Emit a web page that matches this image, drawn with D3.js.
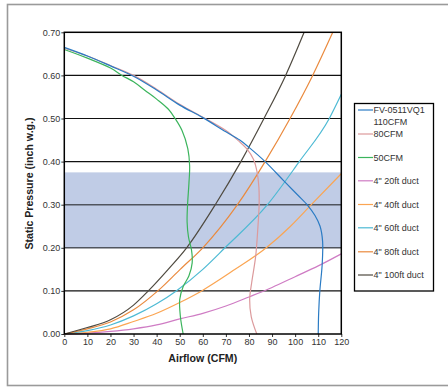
<!DOCTYPE html>
<html><head><meta charset="utf-8">
<script src="https://cdn.jsdelivr.net/npm/d3@7"></script>
<style>body{margin:0;background:#fff}svg{display:block}</style>
</head><body>
<svg id="c" width="448" height="387"></svg>
<script>
// ---- data ----
const xTicks = [0,10,20,30,40,50,60,70,80,90,100,110,120];
const yTicks = [0,0.1,0.2,0.3,0.4,0.5,0.6,0.7];
const bandRange = [0.2, 0.375];
const seriesNames = ["FV-0511VQ1\n110CFM","80CFM","50CFM","4\" 20ft duct","4\" 40ft duct","4\" 60ft duct","4\" 80ft duct","4\" 100ft duct"];
const fan110 = [[0,0.665],[10,0.645],[20,0.622],[30,0.598],[40,0.566],[50,0.531],[60,0.502],[70,0.469],[76,0.45],[80,0.433],[87,0.40],[95,0.356],[101,0.323],[105.5,0.298],[108.6,0.275],[110.8,0.25],[111.9,0.215],[111.7,0.16],[110.7,0.10],[110.2,0.05],[110,0]];
const fan80 = [[0,0.663],[10,0.645],[20,0.623],[30,0.600],[40,0.568],[50,0.533],[60,0.503],[70,0.472],[75.5,0.448],[79,0.43],[82,0.405],[83.5,0.376],[84.3,0.34],[84.4,0.30],[83.9,0.25],[82.9,0.18],[81.2,0.12],[80.3,0.08],[81,0.04],[83.4,0]];
const fan50 = [[0,0.66],[10,0.64],[20,0.617],[25,0.60],[30,0.585],[35,0.565],[40,0.545],[45,0.522],[48,0.50],[51,0.472],[53.5,0.43],[54.3,0.39],[54,0.35],[53.4,0.30],[53.2,0.26],[53.8,0.225],[55.1,0.195],[55.4,0.165],[54,0.135],[51.5,0.11],[50,0.08],[50.3,0.04],[51.5,0]];
const duct20 = [[0,0],[10,0.002],[20,0.006],[30,0.012],[40,0.021],[50,0.035],[60,0.048],[70,0.065],[80,0.086],[90,0.108],[100,0.133],[110,0.158],[120,0.186]];
const duct40 = [[0,0],[10,0.004],[20,0.012],[30,0.029],[40,0.048],[50,0.073],[59.5,0.10],[74,0.15],[87.5,0.20],[98,0.25],[107,0.30],[120,0.372]];
const duct60 = [[0,0],[10,0.008],[20,0.021],[30,0.042],[40,0.07],[48.5,0.10],[60,0.15],[69.6,0.20],[88,0.30],[101.8,0.40],[114.8,0.50],[120,0.556]];
const duct80 = [[0,0],[10,0.012],[20,0.028],[30,0.056],[40.5,0.10],[50.2,0.15],[60,0.20],[75,0.30],[87,0.40],[97.8,0.50],[107.6,0.60],[116.3,0.70]];
const duct100 = [[0,0],[10,0.015],[20,0.033],[30,0.067],[36.4,0.10],[45,0.15],[53,0.20],[65.4,0.30],[76.5,0.40],[86.5,0.50],[95.9,0.60],[103.9,0.70]];
const colors = ["#2a7bc4","#dc9a9c","#3bb45c","#cf7cc4","#fba552","#4dbad4","#ea8a3e","#4f4a40"];

// ---- chart ----
const svg = d3.select("#c");
const font = "'Liberation Sans', Arial, sans-serif";
const L = 64.3, R = 341.3, T = 32.3, B = 334;
const x = d3.scaleLinear().domain([0,120]).range([L,R]);
const y = d3.scaleLinear().domain([0,0.7]).range([B,T]);

// outer frame
svg.append("rect").attr("x",7.5).attr("y",4.5).attr("width",460).attr("height",381)
  .attr("fill","none").attr("stroke","#9a9a9a").attr("stroke-width",1.6);

// band
svg.append("rect").attr("x",x(0)).attr("y",y(bandRange[1])).attr("width",x(120)-x(0))
  .attr("height",y(bandRange[0])-y(bandRange[1])).attr("fill","#c0cce6");

// gridlines
svg.append("g").selectAll("line").data(yTicks.filter(d=>d>0 && d<0.7)).join("line")
  .attr("x1",x(0)).attr("x2",x(120)).attr("y1",d=>y(d)).attr("y2",d=>y(d))
  .attr("stroke",d=>(d>=bandRange[0]&&d<=bandRange[1])?"#50555e":"#111")
  .attr("stroke-width",d=>(d>=bandRange[0]&&d<=bandRange[1])?1.6:1.2);

// axes
const xAxis = svg.append("g").attr("transform",`translate(0,${B})`)
  .call(d3.axisBottom(x).tickValues(xTicks).tickSize(3).tickPadding(2).tickFormat(d3.format("d")));
const yAxis = svg.append("g").attr("transform",`translate(${L},0)`)
  .call(d3.axisLeft(y).tickValues(yTicks).tickSize(3).tickPadding(1).tickFormat(d3.format(".2f")));
[xAxis,yAxis].forEach(a=>{
  a.select(".domain").remove();
  a.selectAll("line").attr("stroke","#333");
  a.selectAll("text").attr("font-family",font).attr("font-size","9px").attr("fill","#333");
});

// curves
const fanLine = d3.line().x(d=>x(d[0])).y(d=>y(d[1])).curve(d3.curveCatmullRom.alpha(0.5));
const ductLine = d3.line().x(d=>x(d[0])).y(d=>y(d[1])).curve(d3.curveMonotoneX);
const series = [fan110,fan80,fan50,duct20,duct40,duct60,duct80,duct100];
const order = [3,4,5,6,7,2,1,0];
order.forEach(i=>{
  svg.append("path").datum(series[i])
    .attr("d", i<3 ? fanLine : ductLine)
    .attr("fill","none").attr("stroke",colors[i]).attr("stroke-width",1.2);
});

// plot border
svg.append("rect").attr("x",L).attr("y",T).attr("width",R-L).attr("height",B-T)
  .attr("fill","none").attr("stroke","#000").attr("stroke-width",1.5);

// axis titles
svg.append("text").attr("x",(L+R)/2).attr("y",362).attr("text-anchor","middle")
  .attr("font-family",font).attr("font-size","10.6px").attr("font-weight","bold").attr("fill","#222")
  .text("Airflow (CFM)");
svg.append("text").attr("transform",`translate(32.5,${(117+250)/2}) rotate(-90)`).attr("text-anchor","middle")
  .attr("font-family",font).attr("font-size","10.6px").attr("font-weight","bold").attr("fill","#222")
  .text("Static Pressure (inch w.g.)");

// legend
const lg = svg.append("g");
lg.append("rect").attr("x",354.5).attr("y",103.5).attr("width",79).attr("height",187.5)
  .attr("fill","#fff").attr("stroke","#000").attr("stroke-width",1.3);
const legY = [110,134,157.5,180.8,204.5,227.8,251.8,275];
seriesNames.forEach((n,i)=>{
  lg.append("line").attr("x1",358).attr("x2",373).attr("y1",legY[i]).attr("y2",legY[i])
    .attr("stroke",colors[i]).attr("stroke-width",1.2);
  const t = lg.append("text").attr("x",373.5).attr("y",legY[i]+3.2)
    .attr("font-family",font).attr("font-size","9px").attr("fill","#333");
  n.split("\n").forEach((s,k)=>{
    t.append("tspan").attr("x",373.5).attr("dy",k===0?0:11.3).text(s);
  });
});
</script>
</body></html>
